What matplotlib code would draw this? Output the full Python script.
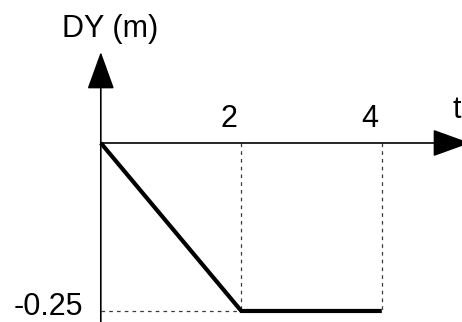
import matplotlib
matplotlib.use("Agg")
import matplotlib.pyplot as plt

# Data
t_values = [0, 2, 4]
dy_values = [0, -0.25, -0.25]
x_tick_values = [2, 4]
x_tick_labels = ["2", "4"]
y_tick_value = -0.25
y_tick_label = "-0.25"
x_axis_label = "t"
y_axis_label = "DY (m)"

plt.rcParams['font.family'] = ['Liberation Sans', 'DejaVu Sans']
FS = 22

fig = plt.figure(figsize=(4.62, 3.22), dpi=100)
ax = fig.add_axes([0, 0, 1, 1])
ax.set_xlim(-1.435, 5.142)
ax.set_ylim(-0.2664, 0.2128)
ax.axis('off')

# guide dashed lines
dash = dict(color='#3a3a3a', lw=0.9, linestyle=(0, (2.9, 3.3)))
for xv in x_tick_values:
    ax.plot([xv, xv], [0, y_tick_value], **dash)
ax.plot([0, t_values[1]], [y_tick_value, y_tick_value], **dash)

# main curve
ax.plot(t_values, dy_values, color='black', lw=3, solid_capstyle='butt', solid_joinstyle='miter')

# axes with arrows
arrow = dict(arrowstyle='-|>,head_length=2.38,head_width=0.86', lw=1.2, color='black',
             shrinkA=0, shrinkB=0, mutation_scale=10)
ax.annotate('', xy=(0, 0.1354), xytext=(0, -0.2664), arrowprops=arrow, annotation_clip=False)
ax.annotate('', xy=(5.256, 0), xytext=(0, 0), arrowprops=arrow, annotation_clip=False)

# tick labels
for xv, lab in zip(x_tick_values, x_tick_labels):
    ax.annotate(lab, xy=(xv, 0), xytext=(-12, 16), textcoords='offset pixels',
                ha='center', va='baseline', fontsize=FS)
ax.annotate(y_tick_label, xy=(0, y_tick_value), xytext=(-18, -4),
            textcoords='offset pixels', ha='right', va='baseline', fontsize=FS)

# axis labels
ax.text(5.07, 0.0372, x_axis_label, ha='center', va='baseline', fontsize=FS)
ax.text(0.131, 0.1577, y_axis_label, ha='center', va='baseline', fontsize=FS)

fig.savefig('out.png', dpi=100)
